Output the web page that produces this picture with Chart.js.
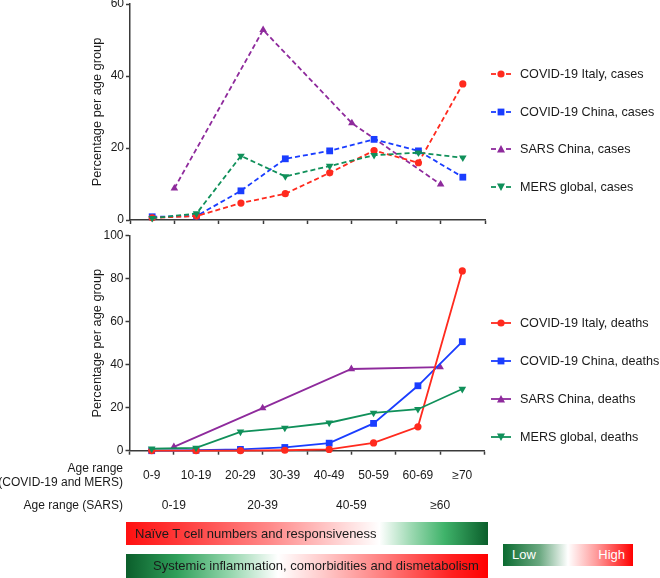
<!DOCTYPE html>
<html>
<head>
<meta charset="utf-8">
<script src="https://cdn.jsdelivr.net/npm/chart.js@4/dist/chart.umd.min.js"></script>
<style>
  html, body { margin: 0; padding: 0; background: #fff; }
  body { width: 660px; height: 578px; position: relative; overflow: hidden;
         font-family: Arial, "Liberation Sans", sans-serif; color: #1a1a1a; }
  .box { position: absolute; }
  .lbl { position: absolute; font-size: 12px; line-height: 14px; text-align: right; white-space: nowrap; }
  .leg { position: absolute; left: 490px; font-size: 12.6px; white-space: nowrap; height: 16px; line-height: 16px; }
  .leg svg { position: absolute; left: 0; top: 3px; }
  .leg span { position: absolute; left: 30px; top: 0; }
  .bar { position: absolute; font-size: 13px; line-height: 23px; white-space: nowrap; }
</style>
</head>
<body>
<div class="box" style="left:0;top:-10px;width:500px;height:250px;"><canvas id="top"></canvas></div>
<div class="box" style="left:0;top:215px;width:500px;height:300px;"><canvas id="bottom"></canvas></div>

<div class="lbl" style="right:537px;top:461px;">Age range<br>(COVID-19 and MERS)</div>
<div class="lbl" style="right:537px;top:498px;">Age range (SARS)</div>

<div id="legTop"></div>
<div id="legBottom"></div>

<div class="bar" style="left:126px;top:522px;width:362px;height:23px;
  background:linear-gradient(to right,#ff1010 0%,#ff3a3a 15%,#ff8a8a 40%,#ffd0d0 58%,#ffffff 70%,#9ad8b0 79%,#3fb36a 88%,#0b5e2b 100%);">
  <span style="position:absolute;left:9px;">Naïve T cell numbers and responsiveness</span></div>
<div class="bar" style="left:126px;top:554px;width:362px;height:24px;
  background:linear-gradient(to right,#0b5e2b 0%,#2f9f5a 14%,#8fd3a8 28%,#ffffff 42%,#ffc8c8 55%,#ff7a7a 72%,#ff2020 90%,#ff0000 100%);">
  <span style="position:absolute;left:27px;">Systemic inflammation, comorbidities and dismetabolism</span></div>
<div class="bar" style="left:503px;top:544px;width:130px;height:22px;line-height:22px;color:#fff;
  background:linear-gradient(to right,#0b6b30 0%,#6aa880 28%,#ffffff 50%,#ff9a9a 72%,#ff0000 100%);">
  <span style="position:absolute;left:9px;">Low</span><span style="position:absolute;right:8px;">High</span></div>

<script>
// ---- data ----
const ageLabels = ['0-9', '10-19', '20-29', '30-39', '40-49', '50-59', '60-69', '≥70'];
const sarsAgeLabels = ['0-19', '20-39', '40-59', '≥60'];

const italyCases = [0.6, 1.1, 4.7, 7.3, 13.1, 19.3, 15.9, 37.8];
const chinaCases = [0.9, 1.1, 8.1, 17.0, 19.2, 22.4, 19.2, 11.9];
const sarsCases  = [8.8, 52.8, 26.9, 9.9];
const mersCases  = [0.5, 1.8, 17.8, 12.1, 15.0, 18.0, 18.7, 17.3];

const italyDeaths = [0, 0, 0, 0.2, 0.6, 3.6, 11.1, 83.6];
const chinaDeaths = [0, 0.2, 0.6, 1.5, 3.5, 12.7, 30.2, 50.7];
const sarsDeaths  = [1.8, 19.8, 38.0, 38.9];
const mersDeaths  = [0.9, 1.3, 8.8, 10.6, 13.0, 17.6, 19.3, 28.7];

const caseLabels  = ['COVID-19 Italy, cases', 'COVID-19 China, cases', 'SARS China, cases', 'MERS global, cases'];
const deathLabels = ['COVID-19 Italy, deaths', 'COVID-19 China, deaths', 'SARS China, deaths', 'MERS global, deaths'];
const yTicksTop = [0, 20, 40, 60];
const yTicksBottom = [0, 20, 40, 60, 80, 100];

// ---- styles ----
const RED = '#ff2a1e', BLUE = '#1a3dff', PURPLE = '#8e2a9c', GREEN = '#10905a';
const AX = '#3a3a3a';
Chart.defaults.font.family = 'Arial, "Liberation Sans", sans-serif';
Chart.defaults.color = '#1a1a1a';

const fine = (arr) => arr.map((v, i) => ({ x: i + 0.5, y: v }));   // 8 age groups
const coarse = (arr) => arr.map((v, i) => ({ x: i * 2 + 1, y: v })); // 4 SARS age groups

function makeSets(vals, labels, dashed) {
  const dash = dashed ? [5, 3] : [];
  const specs = [
    { c: RED,    s: 'circle',   r: 3.6, rot: 0,   d: fine(vals[0]),   order: 1 },
    { c: BLUE,   s: 'rect',     r: 4.8, rot: 0,   d: fine(vals[1]),   order: 2 },
    { c: PURPLE, s: 'triangle', r: 4.4, rot: 0,   d: coarse(vals[2]), order: 3 },
    { c: GREEN,  s: 'triangle', r: 4.4, rot: 180, d: fine(vals[3]),   order: 0 },
  ];
  return specs.map((p, i) => ({
    label: labels[i], data: p.d, order: p.order,
    borderColor: p.c, backgroundColor: p.c, borderWidth: 1.8, borderDash: dash,
    pointStyle: p.s, pointRadius: p.r, pointRotation: p.rot, pointBorderWidth: 0,
    pointBackgroundColor: p.c, tension: 0, clip: false,
  }));
}

function yScale(max, ticks, width) {
  return {
    min: 0, max: max, afterBuildTicks: (s) => { s.ticks = ticks.map(v => ({ value: v })); },
    afterFit: (s) => { s.width = width; },
    border: { color: AX, width: 1.5 },
    grid: { drawOnChartArea: false, drawTicks: true, tickLength: 4, tickColor: AX, tickWidth: 1.5 },
    ticks: { font: { size: 12 }, padding: 2, color: '#1a1a1a' },
    title: { display: true, text: 'Percentage per age group', font: { size: 12.8 }, color: '#1a1a1a', padding: { top: 4, bottom: 4 } },
  };
}

function xLinear(h) {
  return {
    type: 'linear', position: 'bottom', min: 0, max: 8, weight: 0,
    afterBuildTicks: (s) => { s.ticks = ageLabels.concat(['']).map((_, i) => ({ value: i })); },
    afterFit: (s) => { s.height = h; },
    border: { color: AX, width: 1.5 },
    grid: { drawOnChartArea: false, drawTicks: true, tickLength: 4, tickColor: AX, tickWidth: 1.5 },
    ticks: { display: false },
  };
}

const common = {
  responsive: true, maintainAspectRatio: false, animation: false,
  plugins: { legend: { display: false }, tooltip: { enabled: false } },
  elements: { line: { fill: false } },
};

new Chart(document.getElementById('top'), {
  type: 'line',
  data: { datasets: makeSets([italyCases, chinaCases, sarsCases, mersCases], caseLabels, true) },
  options: Object.assign({}, common, {
    layout: { padding: { left: 86, right: 15, top: 14, bottom: 0 } },
    scales: { x: xLinear(20), y: yScale(60, yTicksTop, 44) },
  }),
});

new Chart(document.getElementById('bottom'), {
  type: 'line',
  data: { datasets: makeSets([italyDeaths, chinaDeaths, sarsDeaths, mersDeaths], deathLabels, false) },
  options: Object.assign({}, common, {
    layout: { padding: { left: 86, right: 15.5, top: 20.7, bottom: 0 } },
    scales: {
      x: xLinear(8),
      xc: {
        type: 'category', position: 'bottom', labels: ageLabels, offset: true, weight: 1,
        afterFit: (s) => { s.height = 24; },
        grid: { display: false, drawTicks: false }, border: { display: false },
        ticks: { font: { size: 12 }, padding: 9.5, color: '#1a1a1a', maxRotation: 0, autoSkip: false },
      },
      xs: {
        type: 'category', position: 'bottom', labels: sarsAgeLabels, offset: true, weight: 2,
        afterFit: (s) => { s.height = 32.3; },
        grid: { display: false, drawTicks: false }, border: { display: false },
        ticks: { font: { size: 12 }, padding: 15.3, color: '#1a1a1a', maxRotation: 0, autoSkip: false },
      },
      y: yScale(100, yTicksBottom, 43.5),
    },
  }),
});

// ---- HTML legends ----
function markerSvg(color, shape, dashed) {
  let m = '';
  if (shape === 'circle') m = `<circle cx="11" cy="5" r="3.6" fill="${color}"/>`;
  if (shape === 'rect') m = `<rect x="7.6" y="1.6" width="6.8" height="6.8" fill="${color}"/>`;
  if (shape === 'up') m = `<polygon points="11,1 15,8.5 7,8.5" fill="${color}"/>`;
  if (shape === 'down') m = `<polygon points="7,1.5 15,1.5 11,9" fill="${color}"/>`;
  const line = dashed
    ? `<line x1="1" y1="5" x2="6" y2="5" stroke="${color}" stroke-width="1.8"/><line x1="16" y1="5" x2="21" y2="5" stroke="${color}" stroke-width="1.8"/>`
    : `<line x1="1" y1="5" x2="21" y2="5" stroke="${color}" stroke-width="1.8"/>`;
  return `<svg width="22" height="10">${line}${m}</svg>`;
}
function buildLegend(id, labels, ys, dashed) {
  const colors = [RED, BLUE, PURPLE, GREEN];
  const shapes = ['circle', 'rect', 'up', 'down'];
  document.getElementById(id).innerHTML = labels.map((t, i) =>
    `<div class="leg" style="top:${ys[i] - 8}px">${markerSvg(colors[i], shapes[i], dashed)}<span>${t}</span></div>`
  ).join('');
}
buildLegend('legTop', caseLabels, [74, 111.7, 149.3, 186.7], true);
buildLegend('legBottom', deathLabels, [323.3, 361, 399, 436.7], false);
</script>
</body>
</html>
